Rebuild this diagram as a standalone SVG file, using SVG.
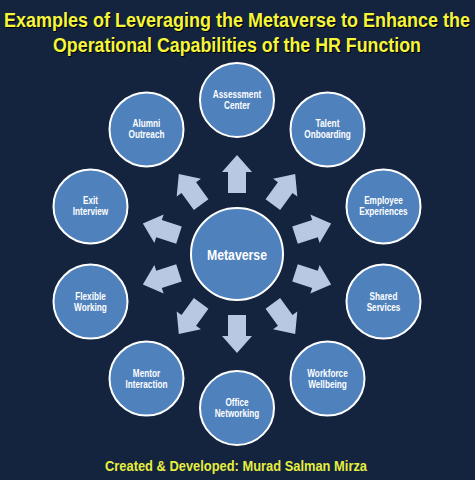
<svg xmlns="http://www.w3.org/2000/svg" xmlns:xlink="http://www.w3.org/1999/xlink" width="475" height="480" viewBox="0 0 475 480">
<style>
.bg{fill:#14233e}
.node{fill:#4f81bd;stroke:#ffffff;stroke-width:2}
text{font-family:"Liberation Sans",Arial,sans-serif;font-weight:bold;text-anchor:middle}
.lbl{font-size:10px;fill:#ffffff}
.center{font-size:15px}
.title{font-size:17.5px;fill:#f6f63a}
.shadow{fill:#000000}
.foot{font-size:15px;fill:#e6ef3e}
.arrow{fill:#b9c8e2}
</style>
<defs>
<polygon id="arr" points="61,-9 82,-9 82,-15 99,0 82,15 82,9 61,9"/>
</defs>
<rect class="bg" x="0" y="0" width="475" height="480"/>
<g id="title">
<text class="title shadow" transform="translate(238,28.2) scale(1,1.2)" x="0" y="0" textLength="466" lengthAdjust="spacingAndGlyphs">Examples of Leveraging the Metaverse to Enhance the</text>
<text class="title shadow" transform="translate(238,53.2) scale(1,1.2)" x="0" y="0" textLength="368" lengthAdjust="spacingAndGlyphs">Operational Capabilities of the HR Function</text>
<text class="title" transform="translate(237,27) scale(1,1.2)" x="0" y="0" textLength="466" lengthAdjust="spacingAndGlyphs">Examples of Leveraging the Metaverse to Enhance the</text>
<text class="title" transform="translate(237,52) scale(1,1.2)" x="0" y="0" textLength="368" lengthAdjust="spacingAndGlyphs">Operational Capabilities of the HR Function</text>
</g>
<g id="connectors" class="arrow">
<use xlink:href="#arr" transform="translate(237,254) rotate(-90)"/>
<use xlink:href="#arr" transform="translate(237,254) rotate(-54)"/>
<use xlink:href="#arr" transform="translate(237,254) rotate(-18)"/>
<use xlink:href="#arr" transform="translate(237,254) rotate(18)"/>
<use xlink:href="#arr" transform="translate(237,254) rotate(54)"/>
<use xlink:href="#arr" transform="translate(237,254) rotate(90)"/>
<use xlink:href="#arr" transform="translate(237,254) rotate(126)"/>
<use xlink:href="#arr" transform="translate(237,254) rotate(162)"/>
<use xlink:href="#arr" transform="translate(237,254) rotate(198)"/>
<use xlink:href="#arr" transform="translate(237,254) rotate(234)"/>
</g>
<g id="metaverse">
<circle class="node" cx="237" cy="254" r="46"/>
<text class="lbl center" x="237" y="260" textLength="60" lengthAdjust="spacingAndGlyphs">Metaverse</text>
</g>
<g id="assessment-center">
<circle class="node" cx="237" cy="100" r="37"/>
<text class="lbl" x="237" y="98" textLength="48.3" lengthAdjust="spacingAndGlyphs">Assessment</text>
<text class="lbl" x="237" y="109" textLength="26" lengthAdjust="spacingAndGlyphs">Center</text>
</g>
<g id="talent-onboarding">
<circle class="node" cx="327.5" cy="129.4" r="37"/>
<text class="lbl" x="327.5" y="127.4" textLength="24.1" lengthAdjust="spacingAndGlyphs">Talent</text>
<text class="lbl" x="327.5" y="138.4" textLength="46.5" lengthAdjust="spacingAndGlyphs">Onboarding</text>
</g>
<g id="employee-experiences">
<circle class="node" cx="383.5" cy="206.4" r="37"/>
<text class="lbl" x="383.5" y="204.4" textLength="38.7" lengthAdjust="spacingAndGlyphs">Employee</text>
<text class="lbl" x="383.5" y="215.4" textLength="48.3" lengthAdjust="spacingAndGlyphs">Experiences</text>
</g>
<g id="shared-services">
<circle class="node" cx="383.5" cy="301.6" r="37"/>
<text class="lbl" x="383.5" y="299.6" textLength="27.8" lengthAdjust="spacingAndGlyphs">Shared</text>
<text class="lbl" x="383.5" y="310.6" textLength="33.7" lengthAdjust="spacingAndGlyphs">Services</text>
</g>
<g id="workforce-wellbeing">
<circle class="node" cx="327.5" cy="378.6" r="37"/>
<text class="lbl" x="327.5" y="376.6" textLength="40.5" lengthAdjust="spacingAndGlyphs">Workforce</text>
<text class="lbl" x="327.5" y="387.6" textLength="38.7" lengthAdjust="spacingAndGlyphs">Wellbeing</text>
</g>
<g id="office-networking">
<circle class="node" cx="237" cy="408" r="37"/>
<text class="lbl" x="237" y="406" textLength="23.2" lengthAdjust="spacingAndGlyphs">Office</text>
<text class="lbl" x="237" y="417" textLength="44.6" lengthAdjust="spacingAndGlyphs">Networking</text>
</g>
<g id="mentor-interaction">
<circle class="node" cx="146.5" cy="378.6" r="37"/>
<text class="lbl" x="146.5" y="376.6" textLength="27.3" lengthAdjust="spacingAndGlyphs">Mentor</text>
<text class="lbl" x="146.5" y="387.6" textLength="41.9" lengthAdjust="spacingAndGlyphs">Interaction</text>
</g>
<g id="flexible-working">
<circle class="node" cx="90.5" cy="301.6" r="37"/>
<text class="lbl" x="90.5" y="299.6" textLength="30.5" lengthAdjust="spacingAndGlyphs">Flexible</text>
<text class="lbl" x="90.5" y="310.6" textLength="32.8" lengthAdjust="spacingAndGlyphs">Working</text>
</g>
<g id="exit-interview">
<circle class="node" cx="90.5" cy="206.4" r="37"/>
<text class="lbl" x="90.5" y="204.4" textLength="15" lengthAdjust="spacingAndGlyphs">Exit</text>
<text class="lbl" x="90.5" y="215.4" textLength="35.5" lengthAdjust="spacingAndGlyphs">Interview</text>
</g>
<g id="alumni-outreach">
<circle class="node" cx="146.5" cy="129.4" r="37"/>
<text class="lbl" x="146.5" y="127.4" textLength="27.8" lengthAdjust="spacingAndGlyphs">Alumni</text>
<text class="lbl" x="146.5" y="138.4" textLength="36" lengthAdjust="spacingAndGlyphs">Outreach</text>
</g>
<g id="footer">
<text class="foot" x="236" y="471" textLength="262" lengthAdjust="spacingAndGlyphs">Created &amp; Developed: Murad Salman Mirza</text>
</g>
</svg>
